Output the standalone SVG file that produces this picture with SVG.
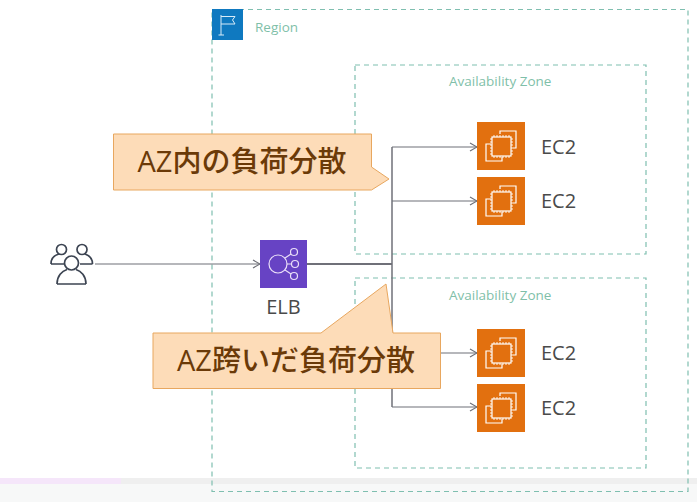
<svg xmlns="http://www.w3.org/2000/svg" xmlns:xlink="http://www.w3.org/1999/xlink" width="697" height="502" viewBox="0 0 697 502">
<style>
.zone{fill:none;stroke:#7fbfb0;stroke-width:1.2;stroke-dasharray:5 4}
.conn{fill:none;stroke:#6f7078;stroke-width:1.2}
.txt{font-family:"Open Sans","Noto Sans",sans-serif}
.green{fill:#7fbfa9;font-size:13.500px}
.dark{fill:#4a4a4a;font-size:20px}
.call{fill:#fddcb8;stroke:#e8a75f;stroke-width:1}
.calltxt{font-family:"Open Sans","Noto Sans CJK JP",sans-serif;font-size:29px;font-weight:500;fill:#6b3a08;text-anchor:middle}
.w{fill:none;stroke:#fff;stroke-width:1.2}
.ec{fill:#e2700f}
</style>
<defs>
<marker id="arr" markerWidth="9" markerHeight="10" refX="8" refY="5" orient="auto" markerUnits="userSpaceOnUse"><path d="M1 1L8 5L1 9" fill="none" stroke="#6f7078" stroke-width="1.2"/></marker>
<g id="ec2icon">
<rect class="ec" width="48" height="48"/>
<path class="w" d="M14 22H9V39H25V35M23 12V9H39V26H36"/>
<rect class="w" x="15" y="15" width="19" height="19" stroke-width="1.4"/>
<path class="w" style="stroke-width:.9" d="M17 13V15M20 13V15M23 13V15M26 13V15M29 13V15M32 13V15M17 34V36M20 34V36M23 34V36M26 34V36M29 34V36M32 34V36M13 17H15M13 20H15M13 23H15M13 26H15M13 29H15M13 32H15M34 17H36M34 20H36M34 23H36M34 26H36M34 29H36M34 32H36"/>
</g>
</defs>
<rect width="697" height="502" fill="#fff"/>
<rect x="0" y="478" width="697" height="6" fill="#efefef"/>
<rect x="0" y="478" width="121" height="6" fill="#f5e6fa"/>
<rect x="0" y="484" width="697" height="18" fill="#f7f8f8"/>
<g id="region">
<rect class="zone" x="212" y="9.500" width="476" height="482"/>
<rect x="212" y="9" width="31" height="31" fill="#0f79c0"/>
<path d="M221 15V35M218.500 35H224M221 16.500H235L232.500 20L235 24H221" fill="none" stroke="#d8ecf8" stroke-width="1"/>
<text class="txt green" x="255" y="32">Region</text>
</g>
<g id="az1">
<rect class="zone" x="355" y="65" width="291" height="189"/>
<text class="txt green" x="449" y="86">Availability Zone</text>
</g>
<g id="az2">
<rect class="zone" x="355" y="278" width="291" height="190"/>
<text class="txt green" x="449" y="300">Availability Zone</text>
</g>
<g id="connectors">
<path class="conn" d="M95 264H260" marker-end="url(#arr)"/>
<path class="conn" style="stroke-width:1.8" d="M307 264H392"/>
<path class="conn" style="stroke-width:1.5" d="M392 147V407"/>
<path class="conn" d="M392 147H477" marker-end="url(#arr)"/>
<path class="conn" d="M392 201H477" marker-end="url(#arr)"/>
<path class="conn" d="M392 353H477" marker-end="url(#arr)"/>
<path class="conn" d="M392 407H477" marker-end="url(#arr)"/>
</g>
<g id="users" fill="none" stroke="#3c4452" stroke-width="1.7">
<circle cx="61.500" cy="249.500" r="5"/>
<circle cx="82" cy="249.500" r="5"/>
<path d="M51 264C51 258 55 255 59 254M92.500 264C92.500 258 88 255 85 254M51 264H64M80 264H92.500"/>
<circle cx="71.500" cy="263" r="7" fill="#fff"/>
<path d="M57 284C57 276 62 271 67 269.500M86 284C86 276 81 271 76 269.500M57 284H86"/>
</g>
<g id="elb">
<rect x="260" y="240" width="47" height="48" fill="#6743c4"/>
<g fill="none" stroke="#eadff8" stroke-width="1.2">
<circle cx="278" cy="264" r="9"/>
<circle cx="294" cy="252" r="3.500"/>
<circle cx="295" cy="264" r="3.500"/>
<circle cx="294" cy="276" r="3.500"/>
<path d="M285 258L291 254M287 264H291.500M285 270L291 274"/>
</g>
<text class="txt dark" x="283.500" y="314" text-anchor="middle">ELB</text>
</g>
<g id="ec2-1"><use xlink:href="#ec2icon" x="477" y="122"/><text class="txt dark" x="541" y="154">EC2</text></g>
<g id="ec2-2"><use xlink:href="#ec2icon" x="477" y="177"/><text class="txt dark" x="541" y="208">EC2</text></g>
<g id="ec2-3"><use xlink:href="#ec2icon" x="477" y="329"/><text class="txt dark" x="541" y="360">EC2</text></g>
<g id="ec2-4"><use xlink:href="#ec2icon" x="477" y="384"/><text class="txt dark" x="541" y="415">EC2</text></g>
<g id="callout1">
<path class="call" d="M113.500 134H371.500V167L389 179L371.500 190H113.500Z"/>
<text class="calltxt" x="242" y="172">AZ内の負荷分散</text>
</g>
<g id="callout2">
<path class="call" d="M153 333H321L386 284L393 333H440.500V388.500H153Z"/>
<text class="calltxt" x="296" y="371">AZ跨いだ負荷分散</text>
</g>
</svg>
